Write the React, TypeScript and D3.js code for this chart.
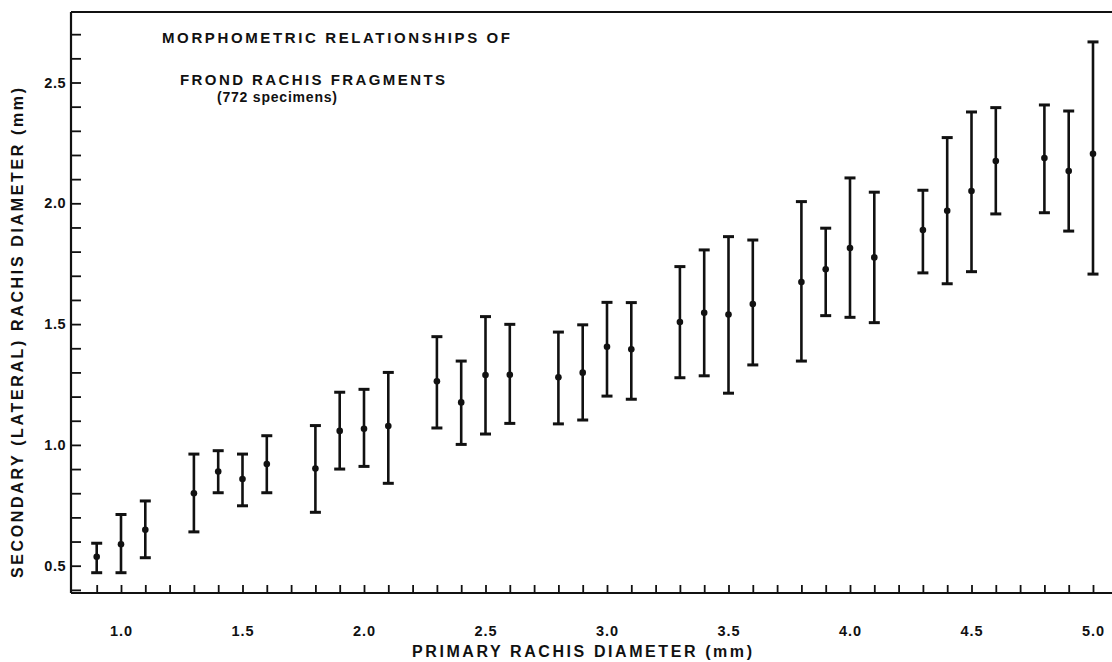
import { useEffect, useRef } from 'react';
import * as d3 from 'd3';

// primary rachis diameter (mm) for each size class
const primary = [0.9, 1.0, 1.1, 1.3, 1.4, 1.5, 1.6, 1.8, 1.9, 2.0, 2.1, 2.3, 2.4, 2.5, 2.6, 2.8, 2.9, 3.0, 3.1,
  3.3, 3.4, 3.5, 3.6, 3.8, 3.9, 4.0, 4.1, 4.3, 4.4, 4.5, 4.6, 4.8, 4.9, 5.0];
// mean secondary diameter
const secondaryMean = [0.537, 0.589, 0.649, 0.800, 0.890, 0.859, 0.921, 0.902, 1.058, 1.067, 1.078, 1.263, 1.176,
  1.289, 1.290, 1.280, 1.299, 1.406, 1.396, 1.509, 1.547, 1.540, 1.583, 1.674, 1.727, 1.815, 1.776, 1.889, 1.969,
  2.051, 2.175, 2.187, 2.134, 2.205];
// range top
const secondaryHigh = [0.593, 0.712, 0.768, 0.962, 0.976, 0.962, 1.038, 1.080, 1.218, 1.230, 1.300, 1.448, 1.347,
  1.531, 1.499, 1.467, 1.497, 1.590, 1.589, 1.738, 1.807, 1.862, 1.848, 2.007, 1.897, 2.105, 2.046, 2.054, 2.272,
  2.378, 2.396, 2.407, 2.382, 2.668];
// range bottom
const secondaryLow = [0.471, 0.471, 0.533, 0.640, 0.802, 0.748, 0.802, 0.721, 0.900, 0.911, 0.841, 1.070, 1.002,
  1.045, 1.089, 1.087, 1.103, 1.202, 1.189, 1.278, 1.286, 1.214, 1.331, 1.347, 1.535, 1.528, 1.506, 1.712, 1.667,
  1.717, 1.956, 1.961, 1.885, 1.707];

const xTicks = [0.9, 1.0, 1.1, 1.2, 1.3, 1.4, 1.5, 1.6, 1.7, 1.8, 1.9, 2.0, 2.1, 2.2, 2.3, 2.4, 2.5, 2.6, 2.7, 2.8,
  2.9, 3.0, 3.1, 3.2, 3.3, 3.4, 3.5, 3.6, 3.7, 3.8, 3.9, 4.0, 4.1, 4.2, 4.3, 4.4, 4.5, 4.6, 4.7, 4.8, 4.9, 5.0];
const xLabels = ['1.0', '1.5', '2.0', '2.5', '3.0', '3.5', '4.0', '4.5', '5.0'];
const yTicks = [0.4, 0.5, 0.6, 0.7, 0.8, 0.9, 1.0, 1.1, 1.2, 1.3, 1.4, 1.5, 1.6, 1.7, 1.8, 1.9, 2.0, 2.1, 2.2, 2.3,
  2.4, 2.5, 2.6, 2.7];
const yLabels = ['0.5', '1.0', '1.5', '2.0', '2.5'];

const titleLines = ['MORPHOMETRIC RELATIONSHIPS OF', 'FROND RACHIS FRAGMENTS', '(772 specimens)'];
const xTitle = 'PRIMARY RACHIS DIAMETER (mm)';
const yTitle = 'SECONDARY (LATERAL) RACHIS DIAMETER (mm)';

const W = 1112;
const H = 662;
const FONT = "'Liberation Sans', Arial, Helvetica, sans-serif";

const App = () => {
  const xAxisRef = useRef<SVGGElement>(null);
  const yAxisRef = useRef<SVGGElement>(null);

  const frame = { left: 71, top: 12, bottom: 593, right: W };

  const x = d3.scaleLinear().domain([1, 5]).range([121, 1093]);
  const y = d3.scaleLinear().domain([0.5, 2.0]).range([565.7, 203.3]);

  useEffect(() => {
    if (!xAxisRef.current || !yAxisRef.current) return;

    const xAxis = d3.axisBottom(x)
      .tickValues(xTicks)
      .tickSizeInner(-8)
      .tickSizeOuter(0)
      .tickPadding(33)
      .tickFormat(d => (xLabels.includes((+d).toFixed(1)) ? (+d).toFixed(1) : ''));

    const gx = d3.select(xAxisRef.current).call(xAxis);
    gx.select('.domain').remove();
    gx.selectAll('line').attr('stroke', '#111').attr('stroke-width', 1.8);
    gx.selectAll('text')
      .attr('fill', '#111')
      .attr('font-size', 14.5)
      .attr('font-weight', 'bold')
      .attr('font-family', FONT)
      .attr('letter-spacing', 1);

    const yAxis = d3.axisLeft(y)
      .tickValues(yTicks)
      .tickSizeInner(-10)
      .tickSizeOuter(0)
      .tickPadding(5)
      .tickFormat(d => (yLabels.includes((+d).toFixed(1)) ? (+d).toFixed(1) : ''));

    const gy = d3.select(yAxisRef.current).call(yAxis);
    gy.select('.domain').remove();
    gy.selectAll('line').attr('stroke', '#111').attr('stroke-width', 1.8);
    gy.selectAll('text')
      .attr('fill', '#111')
      .attr('font-size', 14.5)
      .attr('font-weight', 'bold')
      .attr('font-family', FONT)
      .attr('letter-spacing', 0.5);
  }, []);

  const capW = 5.5;

  return (
    <svg width={W} height={H} style={{ position: 'absolute', left: 0, top: 0, background: '#fff' }}>
      <rect width={W} height={H} fill="#fff" />

      {/* frame */}
      <g stroke="#111" strokeWidth={2.2}>
        <line x1={frame.left} x2={frame.left} y1={frame.top} y2={frame.bottom} />
        <line x1={frame.left} x2={frame.right} y1={frame.top} y2={frame.top} />
        <line x1={frame.left} x2={frame.right} y1={frame.bottom} y2={frame.bottom} />
      </g>

      <g ref={xAxisRef} transform={`translate(0,${frame.bottom})`} />
      <g ref={yAxisRef} transform={`translate(${frame.left},0)`} />

      {/* error bars */}
      <g stroke="#111" strokeWidth={2.6} fill="#111">
        {primary.map((p, i) => {
          const cx = x(p);
          return (
            <g key={p}>
              <line x1={cx} x2={cx} y1={y(secondaryHigh[i])} y2={y(secondaryLow[i])} />
              <line x1={cx - capW} x2={cx + capW} y1={y(secondaryHigh[i])} y2={y(secondaryHigh[i])} strokeWidth={3} />
              <line x1={cx - capW} x2={cx + capW} y1={y(secondaryLow[i])} y2={y(secondaryLow[i])} strokeWidth={3} />
              <circle cx={cx} cy={y(secondaryMean[i])} r={3.3} stroke="none" />
            </g>
          );
        })}
      </g>

      {/* title block */}
      <g fill="#111" fontFamily={FONT} fontWeight="bold">
        <text x={162} y={43} fontSize={15} textLength={348} lengthAdjust="spacing">{titleLines[0]}</text>
        <text x={180} y={85} fontSize={15} textLength={265} lengthAdjust="spacing">{titleLines[1]}</text>
        <text x={217} y={102} fontSize={14} textLength={120} lengthAdjust="spacing">{titleLines[2]}</text>
      </g>

      {/* axis titles */}
      <text x={412} y={657} fill="#111" fontFamily={FONT} fontWeight="bold" fontSize={16}
        textLength={340} lengthAdjust="spacing">{xTitle}</text>
      <text transform="translate(23,333) rotate(-90)" textAnchor="middle" fill="#111" fontFamily={FONT}
        fontWeight="bold" fontSize={16} textLength={490} lengthAdjust="spacing">{yTitle}</text>
    </svg>
  );
};

export default App;
